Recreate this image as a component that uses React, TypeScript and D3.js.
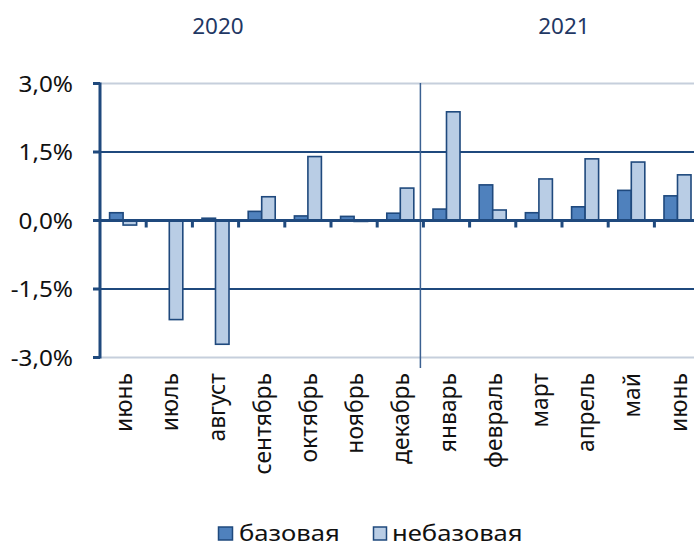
import React from "react";
import * as d3 from "d3";

const months = ["июнь","июль","август","сентябрь","октябрь","ноябрь","декабрь","январь","февраль","март","апрель","май","июнь "];
const base = [0.17, 0.0, 0.05, 0.2, 0.1, 0.09, 0.16, 0.25, 0.78, 0.17, 0.3, 0.66, 0.54];
const nonBase = [-0.1, -2.17, -2.71, 0.52, 1.4, -0.02, 0.71, 2.38, 0.23, 0.91, 1.35, 1.28, 1.0];
const yTicks = [3, 1.5, 0, -1.5, -3];
const yearLabels = ["2020", "2021"];
const seriesNames = ["базовая", "небазовая"];

const W = 694, H = 547;
const NAVY = "#1f497d";
const C_BASE = "#4f81bd";
const C_NON = "#b9cde5";
const FONT = "'Noto Sans', 'Open Sans', sans-serif";

export default function App() {
  const x = d3.scaleBand<string>().domain(months).range([100, 100 + 13 * 46.2]).padding(0);
  const inner = d3.scaleBand<number>().domain([0, 1]).range([0, x.bandwidth()]).paddingInner(0).paddingOuter(0.71);
  const y = d3.scaleLinear().domain([-3, 3]).range([357.5, 83.5]);
  const fmt = (v: number) => v.toFixed(1).replace(".", ",") + "%";
  const y0 = y(0);
  const sepX = x(months[7])! - 3;
  const bars: JSX.Element[] = [];
  months.forEach((m, i) => {
    [base[i], nonBase[i]].forEach((v, s) => {
      const bx = x(m)! + inner(s)!;
      const top = Math.min(y(v), y0);
      const h = Math.abs(y(v) - y0);
      bars.push(
        <rect key={m + s} x={bx} y={top} width={inner.bandwidth()} height={h}
          fill={s === 0 ? C_BASE : C_NON} stroke={NAVY} strokeWidth={1.6} />
      );
    });
  });
  return (
    <svg width={W} height={H} style={{ position: "absolute", left: 0, top: 0 }} fontFamily={FONT}>
      <rect x={0} y={0} width={W} height={H} fill="#fff" />
      {yTicks.filter(t => t !== 0).map(t => (
        <line key={"g" + t} x1={100} x2={W} y1={y(t)} y2={y(t)}
          stroke={Math.abs(t) === 3 ? "#c6cfdc" : NAVY} strokeWidth={2} />
      ))}
      <line x1={sepX} x2={sepX} y1={83} y2={368} stroke="#3b6091" strokeWidth={1.5} />
      {bars}
      <line x1={100} x2={W} y1={y0} y2={y0} stroke={NAVY} strokeWidth={3} />
      {months.map((m, i) => i > 0 ? (
        <line key={"t" + i} x1={x(m)!} x2={x(m)!} y1={y0} y2={y0 + 7} stroke={NAVY} strokeWidth={3} />
      ) : null)}
      <line x1={100} x2={100} y1={y(3) - 1} y2={y(-3) + 1} stroke={NAVY} strokeWidth={3} />
      {yTicks.map(t => (
        <g key={"y" + t}>
          <line x1={93} x2={100} y1={y(t)} y2={y(t)} stroke={NAVY} strokeWidth={3} />
          <text transform={`translate(73,${y(t)}) scale(1.13,1)`} textAnchor="end" dominantBaseline="central" fontSize={21.5} fill="#111">{fmt(t)}</text>
        </g>
      ))}
      {months.map(m => {
        const cx = x(m)! + x.bandwidth() / 2;
        return (
          <text key={"m" + m} transform={`translate(${cx},373) rotate(-90) scale(1.04,1.06)`} textAnchor="end"
            dominantBaseline="central" fontSize={22} fill="#111">{m.trim()}</text>
        );
      })}
      <text x={218} y={34} textAnchor="middle" fontSize={22.5} fill="#1f3864">{yearLabels[0]}</text>
      <text x={564} y={34} textAnchor="middle" fontSize={22.5} fill="#1f3864">{yearLabels[1]}</text>
      <rect x={218.5} y={527} width={14} height={13} fill={C_BASE} stroke={NAVY} strokeWidth={1.5} />
      <text transform="translate(239,540.5) scale(1.14,1)" fontSize={22.5} fill="#111">{seriesNames[0]}</text>
      <rect x={373.5} y={527} width={13} height={13} fill={C_NON} stroke={NAVY} strokeWidth={1.5} />
      <text transform="translate(392,540.5) scale(1.14,1)" fontSize={22.5} fill="#111">{seriesNames[1]}</text>
    </svg>
  );
}
